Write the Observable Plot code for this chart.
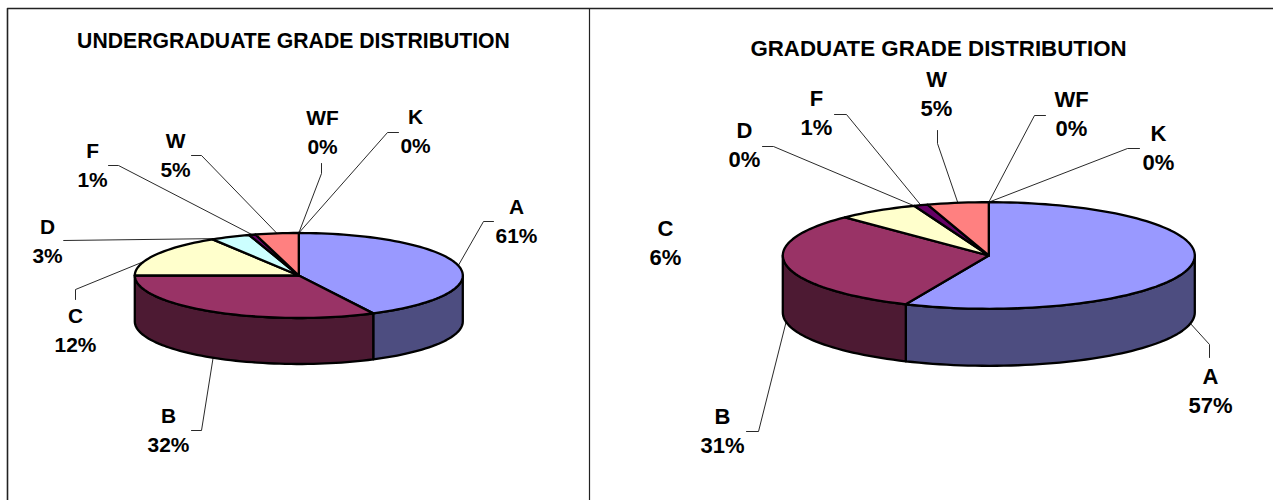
<!DOCTYPE html>
<html><head><meta charset="utf-8">
<script src="https://cdn.jsdelivr.net/npm/d3@7"></script>
<script src="https://cdn.jsdelivr.net/npm/@observablehq/plot@0.6"></script>
<style>html,body{margin:0;padding:0;background:#fff}svg{display:block}</style>
</head><body><div id="chart"></div>
<script>
// ---- data: values ----
const grades = ["A","B","C","D","F","W","WF","K"];
const undergradTitle = "UNDERGRADUATE GRADE DISTRIBUTION";
const gradTitle = "GRADUATE GRADE DISTRIBUTION";
// slice sizes as drawn
const undergradSlices = [42.5,32.5,16.2,3.9,0.65,4.25,0,0];
const gradSlices = [56.6,31.1,6.4,0,1.1,4.8,0,0];
// percentages as printed
const undergradLabels = ["61%","32%","12%","3%","1%","5%","0%","0%"];
const gradLabels = ["57%","31%","6%","0%","1%","5%","0%","0%"];
// ---- styles ----
const topColors = ["#9999FF","#993366","#FFFFCC","#CCFFFF","#660066","#FF8080","#0066CC","#CCCCFF"];
const sideColors = ["#4D4D80","#4D1A33","#808066","#668080","#330033","#804040","#003366","#666680"];
// ---- layout (separate from data) ----
const undergradLayout = {
  title:[293,41], titleSize:21.2, labelSize:20.9, cx:298.3, cy:275, rx:164, ry:42.5, depth:46,
  text:[[516,207],[168,416],[75,316],[47,227],[92,151],[175,141],[322,118],[415,117]],
  elbow:[[[483,221],[493,221]],[[201,430],[191,430]],[[75,289],[75,299]],[[63,240],[63,240]],
         [[118,165],[108,165]],[[201,155],[191,155]],[[321,173],[321,163]],[[387,132],[398,132]]],
  nudge:[0,0,-10,-5,0,0,0,0]
};
const gradLayout = {
  title:[938,48], titleSize:22.3, labelSize:22, cx:988.3, cy:255, rx:206, ry:53.3, depth:57,
  text:[[1210,376],[722,416],[665,228],[744,130],[816,98],[936,79],[1071,99],[1158,133]],
  elbow:[[[1209,344],[1209,357]],[[758,431],[746,431]],null,[[773,146],[762,146]],
         [[846,114],[834,114]],[[937,143],[937,130]],[[1034,115],[1045,115]],[[1127,148],[1139,148]]],
  nudge:[0,0,0,0,0,0,0,0]
};
const frame = [[7,500],[7,8],[1273,8]];
const divider = [[589,8],[589,500]];

const rad = d => d*Math.PI/180;
function pt(L,deg,down=0){return [L.cx+L.rx*Math.sin(rad(deg)), L.cy-L.ry*Math.cos(rad(deg))+down];}
function arc(L,a,b,down=0){
  const n=Math.max(2,Math.ceil(Math.abs(b-a)/2)+1);
  return d3.range(n).map(i=>pt(L,a+(b-a)*i/(n-1),down));
}
function build(values,printed,L,id){
  const tops=[],sides=[],leaders=[],texts=[];
  let start=0;
  values.forEach((v,i)=>{
    const a=start, b=start+v*3.6; start=b;
    const mid=(a+b)/2+L.nudge[i];
    if(v>0){
      const poly=[[L.cx,L.cy],...arc(L,a,b),[L.cx,L.cy]];
      poly.forEach(p=>tops.push({k:id+i,x:p[0],y:p[1],c:topColors[i]}));
      const s0=Math.max(a,90), s1=Math.min(b,270);
      if(s1>s0){
        const side=[...arc(L,s0,s1),...arc(L,s1,s0,L.depth)];
        side.push(side[0]);
        side.forEach(p=>sides.push({k:id+"s"+i,x:p[0],y:p[1],c:sideColors[i]}));
      }
    }
    if(L.elbow[i]){
      const lower=((mid%360)>90&&(mid%360)<270);
      const path=[pt(L,mid,lower?L.depth:0),...L.elbow[i]];
      path.forEach(p=>leaders.push({k:id+"l"+i,x:p[0],y:p[1]}));
    }
    const t=L.text[i];
    texts.push({x:t[0],y:t[1],t:grades[i],s:L.labelSize});
    texts.push({x:t[0],y:t[1]+29,t:printed[i],s:L.labelSize});
  });
  texts.push({x:L.title[0],y:L.title[1],t:id==="u"?undergradTitle:gradTitle,s:L.titleSize});
  return {tops,sides,leaders,texts};
}
const U=build(undergradSlices,undergradLabels,undergradLayout,"u");
const G=build(gradSlices,gradLabels,gradLayout,"g");
const tops=[...U.tops,...G.tops], sides=[...U.sides,...G.sides];
const leaders=[...U.leaders,...G.leaders], texts=[...U.texts,...G.texts];
const X=d=>d[0], Y=d=>d[1];
const chart=Plot.plot({
  width:1273,height:500,margin:0,
  x:{domain:[0,1273],range:[0,1273],axis:null},
  y:{domain:[0,500],range:[0,500],axis:null},
  color:{type:"identity"},
  style:{fontFamily:"'Liberation Sans',Arial,sans-serif",background:"#fff"},
  marks:[
    Plot.line(frame,{x:X,y:Y,stroke:"#222",strokeWidth:1.6}),
    Plot.line(divider,{x:X,y:Y,stroke:"#222",strokeWidth:1.2}),
    Plot.line(leaders,{x:"x",y:"y",z:"k",stroke:"#111",strokeWidth:0.9}),
    Plot.line(sides,{x:"x",y:"y",z:"k",fill:"c",stroke:"#000",strokeWidth:2.3,strokeLinejoin:"round"}),
    Plot.line(tops,{x:"x",y:"y",z:"k",fill:"c",stroke:"#000",strokeWidth:2.3,strokeLinejoin:"round"}),
    ...d3.groups(texts,d=>d.s).map(([s,rows])=>Plot.text(rows,{x:"x",y:"y",text:"t",fontSize:s,fontWeight:"bold",fill:"#000",textAnchor:"middle"}))
  ]
});
document.getElementById("chart").append(chart);
</script></body></html>
